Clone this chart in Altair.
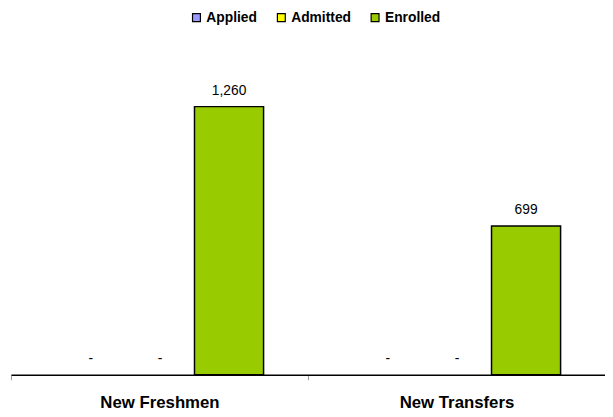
import altair as alt
import pandas as pd

categories = ["New Freshmen", "New Transfers"]
series = ["Applied", "Admitted", "Enrolled"]
applied = [0, 0]
admitted = [0, 0]
enrolled = [1260, 699]
colors = ["#9999FF", "#FFFF00", "#99CC00"]

rows = []
for i, c in enumerate(categories):
    for s, vals in zip(series, [applied, admitted, enrolled]):
        rows.append({"Category": c, "Series": s, "Value": vals[i]})
df = pd.DataFrame(rows)

base = alt.Chart(df).encode(
    x=alt.X("Category:N", sort=categories, title=None,
            scale=alt.Scale(paddingInner=0, paddingOuter=0),
            axis=alt.Axis(labelAngle=0, labelFont="Liberation Sans", labelFontSize=17,
                          labelFontWeight="bold", labelColor="black", labelPadding=15,
                          domainColor="black", domainWidth=1.5, tickColor="#999999",
                          tickSize=5, tickBand="extent", grid=False)),
    xOffset=alt.XOffset("Series:N", sort=series,
                        scale=alt.Scale(domain=series, range=[46, 256],
                                        paddingInner=0, paddingOuter=0)),
    y=alt.Y("Value:Q", scale=alt.Scale(domain=[0, 1400]), axis=None),
)

bars = base.transform_filter("datum.Value > 0").mark_bar(stroke="black", strokeWidth=1.5).encode(
    color=alt.Color("Series:N", sort=series,
                    scale=alt.Scale(domain=series, range=colors),
                    legend=alt.Legend(orient="none", legendX=181, legendY=-67,
                                      direction="horizontal", title=None, padding=0,
                                      symbolType="square", symbolSize=64,
                                      symbolStrokeColor="black", symbolStrokeWidth=1.2,
                                      labelFont="Liberation Sans", labelFontSize=14,
                                      labelFontWeight="bold", labelColor="black",
                                      labelOffset=3, columnPadding=17,
                                      values=series))
)

labels = base.transform_calculate(
    lbl="datum.Value == 0 ? '-' : format(datum.Value, ',')"
).mark_text(baseline="bottom", dy=-9, font="Liberation Sans", fontSize=14, color="black").encode(
    text="lbl:N"
)

chart = (bars + labels).properties(
    width=602, height=302,
    autosize=alt.AutoSizeParams(type="none"),
    padding={"left": 3, "right": 0, "top": 67, "bottom": 40},
).configure_view(stroke=None)

chart.save("out.html", embed_options={"renderer": "svg", "actions": False})
